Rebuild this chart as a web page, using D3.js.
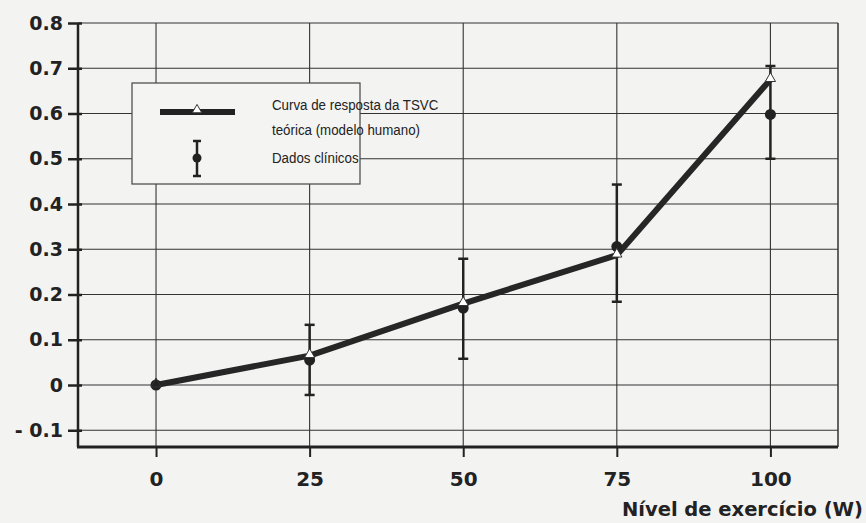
<!DOCTYPE html>
<html>
<head>
<meta charset="utf-8">
<script src="https://cdn.jsdelivr.net/npm/d3@7"></script>
<style>
  body { margin:0; background:#f3f3f2; }
  svg { display:block; }
  .tick text { font-family:"DejaVu Sans", sans-serif; font-weight:bold; font-size:19px; fill:#222; }
</style>
</head>
<body>
<svg id="chart" width="866" height="523"></svg>
<script>
// data
var levels = [0, 25, 50, 75, 100];
var theory = [0, 0.065, 0.18, 0.287, 0.675];
var clinical = [0, 0.055, 0.17, 0.306, 0.598];
var errLow = [null, -0.022, 0.058, 0.184, 0.50];
var errHigh = [null, 0.133, 0.279, 0.443, 0.705];
var yTicks = [-0.1, 0, 0.1, 0.2, 0.3, 0.4, 0.5, 0.6, 0.7, 0.8];
var legendLabels = ["Curva de resposta da TSVC", "teórica (modelo humano)", "Dados clínicos"];
var xTitle = "Nível de exercício (W)";

var svg = d3.select("#chart");
var m = {l:78, r:28, t:23, b:76};
var w = 866 - m.l - m.r, h = 523 - m.t - m.b;

var x = d3.scaleLinear().domain([-12.7, 111]).range([0, w]);
var y = d3.scaleLinear().domain([-0.137, 0.8]).range([h, 0]);

var g = svg.append("g").attr("transform", "translate(" + m.l + "," + m.t + ")");

// grid
g.append("g").selectAll("line").data(yTicks)
  .join("line")
    .attr("x1", 0).attr("x2", w)
    .attr("y1", d => y(d)).attr("y2", d => y(d))
    .attr("stroke", "#333").attr("stroke-width", 1.1);
g.append("g").selectAll("line").data(levels)
  .join("line")
    .attr("x1", d => x(d)).attr("x2", d => x(d))
    .attr("y1", 0).attr("y2", h)
    .attr("stroke", "#333").attr("stroke-width", 1.1);

// frame
g.append("line").attr("x1", w).attr("x2", w).attr("y1", 0).attr("y2", h).attr("stroke", "#333").attr("stroke-width", 1.5);

// axes
var yAxis = g.append("g").call(d3.axisLeft(y).tickValues(yTicks).tickSize(10).tickPadding(6)
    .tickFormat(d => d < 0 ? "- " + Math.abs(d) : d3.format("")(d)));
yAxis.select(".domain").remove();
yAxis.selectAll(".tick line").attr("stroke", "#222").attr("stroke-width", 2.5).attr("x2", -10).attr("x1", 4);
yAxis.selectAll(".tick text").attr("x", -15);
g.append("line").attr("x1", 0).attr("x2", 0).attr("y1", 0).attr("y2", h).attr("stroke", "#222").attr("stroke-width", 2.5);

var xAxis = g.append("g").attr("transform", "translate(0," + h + ")")
  .call(d3.axisBottom(x).tickValues(levels).tickSize(10).tickPadding(15).tickFormat(d3.format("")));
xAxis.select(".domain").remove();
xAxis.selectAll(".tick line").attr("stroke", "#222").attr("stroke-width", 2);
xAxis.selectAll(".tick text").style("font-size", "20px");
g.append("line").attr("x1", -1).attr("x2", w).attr("y1", h).attr("y2", h).attr("stroke", "#222").attr("stroke-width", 3);

svg.append("text").attr("x", 863).attr("y", 516).attr("text-anchor", "end")
  .style("font-family", "DejaVu Sans, sans-serif").style("font-weight", "bold")
  .style("font-size", "19.5px").style("fill", "#222").text(xTitle);

// legend
var lg = svg.append("g");
lg.append("rect").attr("x", 132).attr("y", 83).attr("width", 228).attr("height", 101)
  .attr("fill", "#f4f4f3").attr("stroke", "#444").attr("stroke-width", 1.2);
lg.append("line").attr("x1", 160).attr("x2", 235).attr("y1", 112).attr("y2", 112)
  .attr("stroke", "#222").attr("stroke-width", 6);
lg.append("path").attr("d", d3.symbol(d3.symbolTriangle, 40)()).attr("transform", "translate(197,110)")
  .attr("fill", "#fff").attr("stroke", "#333").attr("stroke-width", 1);
lg.append("line").attr("x1", 197).attr("x2", 197).attr("y1", 141).attr("y2", 176).attr("stroke", "#222").attr("stroke-width", 2.5);
lg.selectAll(".cap").data([141, 176]).join("line").attr("x1", 193).attr("x2", 201)
  .attr("y1", d => d).attr("y2", d => d).attr("stroke", "#222").attr("stroke-width", 2.5);
lg.append("circle").attr("cx", 197).attr("cy", 158).attr("r", 4.5).attr("fill", "#222");
lg.selectAll(".lt").data(legendLabels).join("text")
  .attr("transform", (d, i) => "translate(272," + [110, 135, 163][i] + ") scale(0.86,1)")
  .style("font-family", "Liberation Sans, Arial, sans-serif")
  .style("font-size", "15.5px").style("fill", "#222").text(d => d);

// error bars
var err = levels.map((d, i) => ({x:d, lo:errLow[i], hi:errHigh[i]})).filter(d => d.lo !== null);
var eb = g.append("g").selectAll("g").data(err).join("g");
eb.append("line").attr("x1", d => x(d.x)).attr("x2", d => x(d.x))
  .attr("y1", d => y(d.lo)).attr("y2", d => y(d.hi)).attr("stroke", "#222").attr("stroke-width", 2.5);
eb.append("line").attr("x1", d => x(d.x) - 5).attr("x2", d => x(d.x) + 5)
  .attr("y1", d => y(d.lo)).attr("y2", d => y(d.lo)).attr("stroke", "#222").attr("stroke-width", 2.5);
eb.append("line").attr("x1", d => x(d.x) - 5).attr("x2", d => x(d.x) + 5)
  .attr("y1", d => y(d.hi)).attr("y2", d => y(d.hi)).attr("stroke", "#222").attr("stroke-width", 2.5);

// theoretical curve
var line = d3.line().x((d, i) => x(levels[i])).y(d => y(d));
g.append("path").datum(theory).attr("d", line)
  .attr("fill", "none").attr("stroke", "#262626").attr("stroke-width", 6).attr("stroke-linejoin", "round");

// clinical points
g.append("g").selectAll("circle").data(clinical).join("circle")
  .attr("cx", (d, i) => x(levels[i])).attr("cy", d => y(d)).attr("r", 5.5).attr("fill", "#222");

// theoretical markers
g.append("g").selectAll("path").data(theory).join("path")
  .attr("d", d3.symbol(d3.symbolTriangle, 45)())
  .attr("transform", (d, i) => "translate(" + x(levels[i]) + "," + (y(d) - 1) + ")")
  .attr("fill", (d, i) => i === 0 ? "#222" : "#fff").attr("stroke", "#333").attr("stroke-width", 1);
</script>
</body>
</html>
